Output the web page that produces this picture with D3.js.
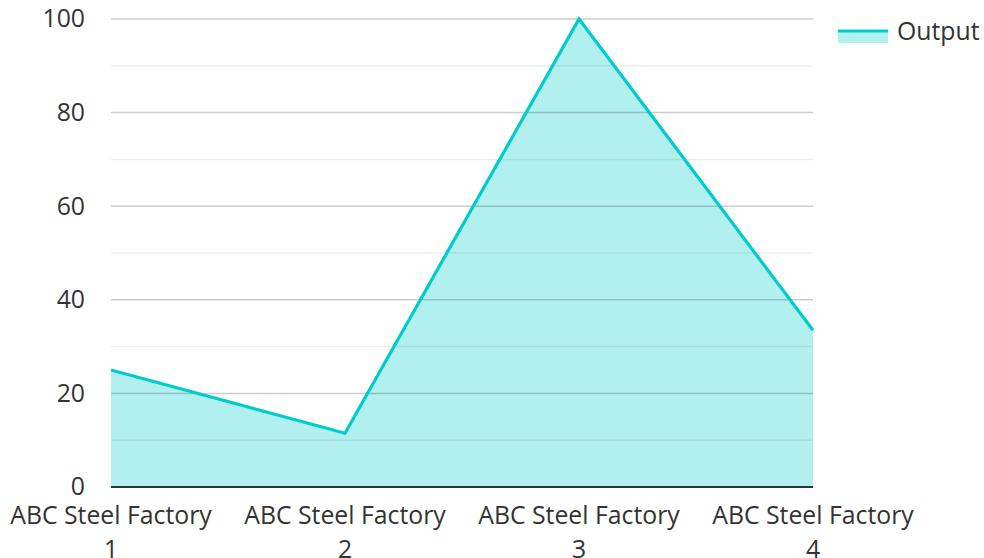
<!DOCTYPE html>
<html>
<head>
<meta charset="utf-8">
<script src="https://cdn.jsdelivr.net/npm/d3@7"></script>
<style>
  html, body { margin: 0; padding: 0; background: #fff; overflow: hidden; }
  svg text { font-family: "Open Sans", "Noto Sans", sans-serif; fill: #333; }
</style>
</head>
<body>
<svg id="chart" width="984" height="558"></svg>
<script>
// Factory output data
const categories = ["ABC Steel Factory 1", "ABC Steel Factory 2", "ABC Steel Factory 3", "ABC Steel Factory 4"];
const outputValues = [25, 11.5, 100, 33.5];
const yTicks = [0, 20, 40, 60, 80, 100];
const yMinorTicks = [10, 30, 50, 70, 90];
const seriesName = "Output";

const lineColor = "#00cccc";
const fillColor = "rgba(0, 204, 204, 0.3)";
const fontSize = 24.8;

const svg = d3.select("#chart");
const margin = { left: 111, right: 171, top: 19, bottom: 71 };
const width = 984 - margin.left - margin.right;
const height = 558 - margin.top - margin.bottom;

const g = svg.append("g").attr("transform", `translate(${margin.left},${margin.top})`);

const x = d3.scalePoint().domain(categories).range([0, width]);
const y = d3.scaleLinear().domain([0, 100]).range([height, 0]);

const data = categories.map((c, i) => ({ c, v: outputValues[i] }));

// area fill under the line
g.append("path")
  .datum(data)
  .attr("fill", fillColor)
  .attr("d", d3.area().x(d => x(d.c)).y0(y(0)).y1(d => y(d.v)));

// minor gridlines
g.append("g").selectAll("line").data(yMinorTicks).join("line")
  .attr("x1", 0).attr("x2", width)
  .attr("y1", d => y(d)).attr("y2", d => y(d))
  .attr("stroke", "#000").attr("stroke-opacity", 0.07).attr("stroke-width", 1.5);

// major gridlines
g.append("g").selectAll("line").data(yTicks.filter(t => t !== 0)).join("line")
  .attr("x1", 0).attr("x2", width)
  .attr("y1", d => y(d)).attr("y2", d => y(d))
  .attr("stroke", "#000").attr("stroke-opacity", 0.2).attr("stroke-width", 1.5);

// y axis labels
const yAxis = d3.axisLeft(y).tickValues(yTicks).tickSize(0).tickPadding(26);
const yg = g.append("g").call(yAxis).attr("font-size", null).attr("font-family", null);
yg.select(".domain").remove();
yg.selectAll("text").style("font-size", fontSize + "px").attr("fill", "#333");

// line
g.append("path")
  .datum(data)
  .attr("fill", "none")
  .attr("stroke", lineColor)
  .attr("stroke-width", 3.2)
  .attr("stroke-linejoin", "miter")
  .attr("d", d3.line().x(d => x(d.c)).y(d => y(d.v)));

// x axis baseline
g.append("line")
  .attr("x1", 0).attr("x2", width)
  .attr("y1", y(0)).attr("y2", y(0))
  .attr("stroke", "#333").attr("stroke-width", 2);

// x axis labels, wrapped into two lines
const xg = g.append("g").attr("transform", `translate(0,${height})`);
categories.forEach(c => {
  const parts = c.split(" ");
  const last = parts.pop();
  const t = xg.append("text")
    .attr("x", x(c)).attr("y", 37)
    .attr("text-anchor", "middle")
    .style("font-size", fontSize + "px");
  t.append("tspan").attr("x", x(c)).text(parts.join(" "));
  t.append("tspan").attr("x", x(c)).attr("dy", 34).text(last);
});

// legend
const lg = svg.append("g").attr("transform", "translate(838,31)");
lg.append("rect").attr("x", 0).attr("y", 0).attr("width", 50).attr("height", 12).attr("fill", fillColor);
lg.append("line").attr("x1", 0).attr("x2", 50).attr("y1", 0).attr("y2", 0)
  .attr("stroke", lineColor).attr("stroke-width", 3);
lg.append("text").attr("x", 59).attr("y", 9).style("font-size", fontSize + "px").text(seriesName);
</script>
</body>
</html>
